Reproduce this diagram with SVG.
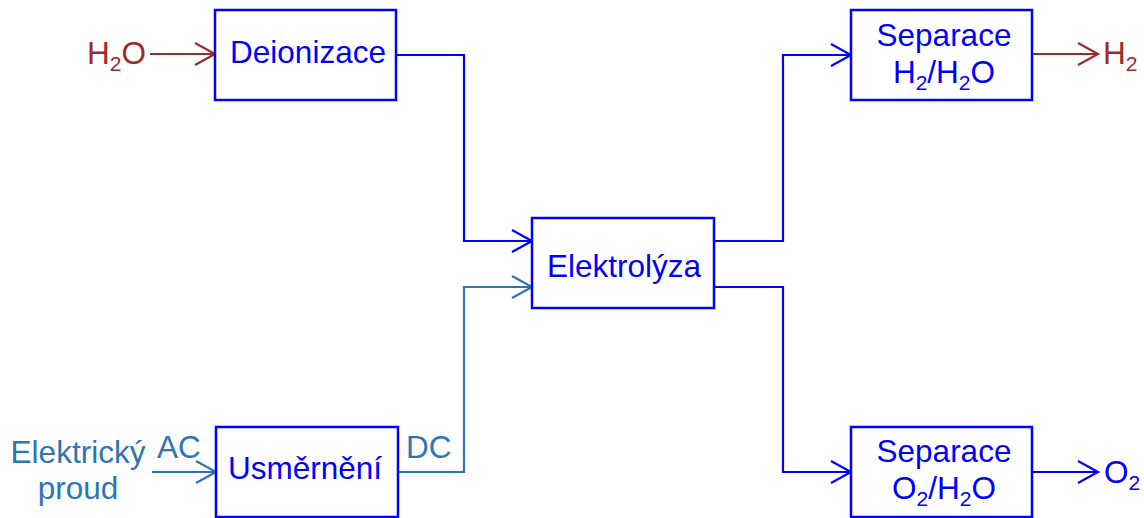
<svg xmlns="http://www.w3.org/2000/svg" width="1144" height="518" viewBox="0 0 1144 518">
<defs>
<style>
text{font-family:"Liberation Sans",Arial,sans-serif;font-size:31.5px}
.box{fill:#fff;stroke:#0000FF;stroke-width:2.5}
.bt{fill:#0000FF;text-anchor:middle}
.red{fill:#9E2A2B}
.sb{fill:#2E75B6}
.ln{fill:none;stroke-width:2.2}
.lb{stroke:#0000FF}
.lr{stroke:#9E2A2B}
.ls{stroke:#2E75B6}
</style>
<marker id="ab" markerWidth="24" markerHeight="24" refX="21" refY="12" orient="auto" markerUnits="userSpaceOnUse"><path d="M1,1 L21,12 L1,23" fill="none" stroke="#0000FF" stroke-width="2.2"/></marker>
<marker id="ar" markerWidth="24" markerHeight="24" refX="21" refY="12" orient="auto" markerUnits="userSpaceOnUse"><path d="M1,1 L21,12 L1,23" fill="none" stroke="#9E2A2B" stroke-width="2.2"/></marker>
<marker id="as" markerWidth="24" markerHeight="24" refX="21" refY="12" orient="auto" markerUnits="userSpaceOnUse"><path d="M1,1 L21,12 L1,23" fill="none" stroke="#2E75B6" stroke-width="2.2"/></marker>
</defs>
<rect width="1144" height="518" fill="#fff"/>
<g id="connectors">
<path class="ln lr" d="M150,54 H215" marker-end="url(#ar)"/>
<path class="ln lb" d="M396,55 H464 V241 H532" marker-end="url(#ab)"/>
<path class="ln ls" d="M152,472 H216" marker-end="url(#as)"/>
<path class="ln ls" d="M398,472 H464 V287 H532" marker-end="url(#as)"/>
<path class="ln lb" d="M714,241 H783 V55 H851" marker-end="url(#ab)"/>
<path class="ln lb" d="M714,287 H783 V472 H851" marker-end="url(#ab)"/>
<path class="ln lr" d="M1032,54 H1098" marker-end="url(#ar)"/>
<path class="ln lb" d="M1032,472 H1098" marker-end="url(#ab)"/>
</g>
<g id="label-h2o-in"><text class="red" x="87" y="64">H<tspan font-size="21" dy="7">2</tspan><tspan dy="-7">O</tspan></text></g>
<g id="label-elektricky"><text class="sb" x="78" y="463" text-anchor="middle">Elektrický</text><text class="sb" x="78" y="499" text-anchor="middle">proud</text></g>
<g id="label-ac"><text class="sb" x="157" y="458">AC</text></g>
<g id="label-dc"><text class="sb" x="406" y="458">DC</text></g>
<g id="label-h2-out"><text class="red" x="1103" y="64">H<tspan font-size="21" dy="7">2</tspan></text></g>
<g id="label-o2-out"><text fill="#0000FF" x="1104" y="483">O<tspan font-size="21" dy="7">2</tspan></text></g>
<g id="deionizace"><rect class="box" x="215" y="10" width="181" height="90"/><text class="bt" x="308" y="63">Deionizace</text></g>
<g id="usmerneni"><rect class="box" x="216" y="427" width="182" height="90"/><text class="bt" x="305" y="479">Usměrnění</text></g>
<g id="elektrolyza"><rect class="box" x="532" y="218" width="182" height="90"/><text class="bt" x="624" y="277">Elektrolýza</text></g>
<g id="separace-h2"><rect class="box" x="851" y="10" width="181" height="90"/><text class="bt" x="944" y="46">Separace</text><text class="bt" x="944" y="83">H<tspan font-size="21" dy="7">2</tspan><tspan dy="-7">/H</tspan><tspan font-size="21" dy="7">2</tspan><tspan dy="-7">O</tspan></text></g>
<g id="separace-o2"><rect class="box" x="851" y="427" width="181" height="90"/><text class="bt" x="944" y="462">Separace</text><text class="bt" x="944" y="499">O<tspan font-size="21" dy="7">2</tspan><tspan dy="-7">/H</tspan><tspan font-size="21" dy="7">2</tspan><tspan dy="-7">O</tspan></text></g>
</svg>
